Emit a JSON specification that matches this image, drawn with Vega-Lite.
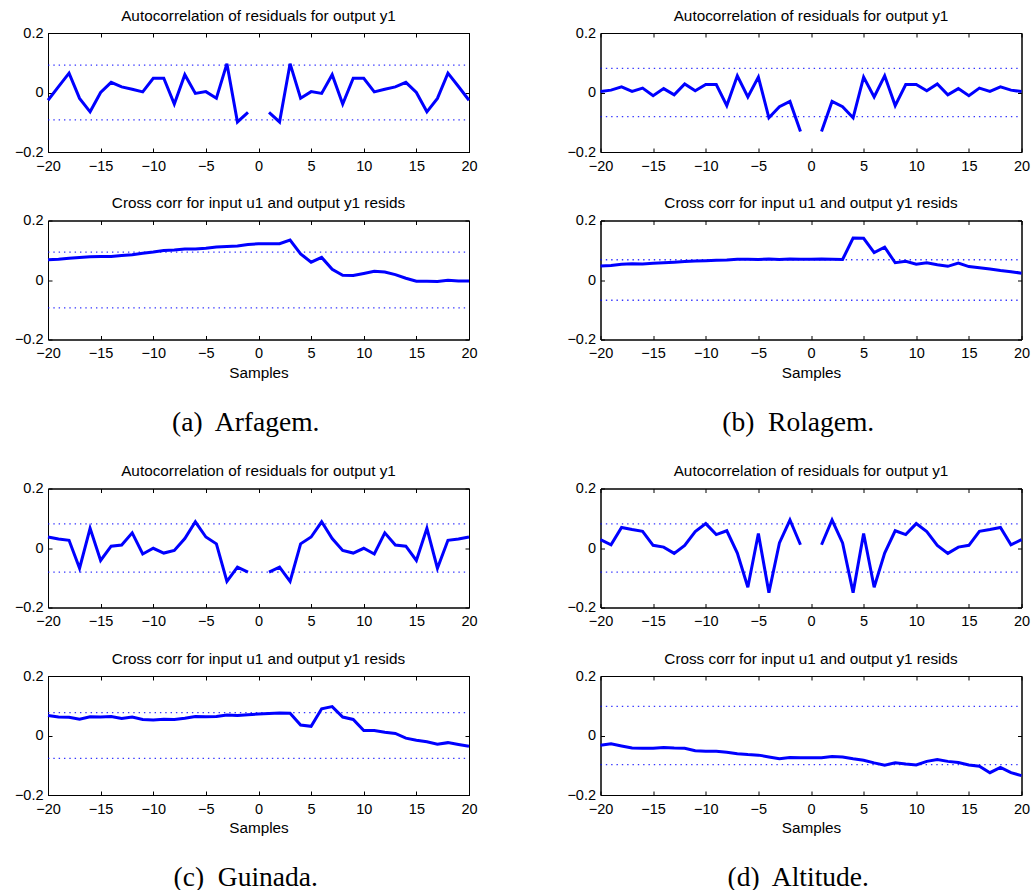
{
  "$schema": "https://vega.github.io/schema/vega-lite/v6.json",
  "background": "white",
  "padding": {"left": 13, "top": 8, "right": 0, "bottom": 0},
  "config": {
    "view": {"stroke": "#000", "strokeWidth": 1},
    "axis": {"domainColor": "#000", "domainWidth": 1, "tickColor": "#000", "tickSize": -4, "tickWidth": 1, "grid": false,
      "labelFont": "Liberation Sans", "labelFontSize": 14.5, "labelColor": "#000", "labelPadding": 9, "labelFlush": false, "labelOverlap": false,
      "titleFont": "Liberation Sans", "titleFontSize": 15.3, "titleFontWeight": "normal", "titleColor": "#000", "titlePadding": 5},
    "axisX": {"labelPadding": 11},
    "axisTop": {"labels": false},
    "axisRight": {"labels": false},
    "title": {"font": "Liberation Sans", "fontSize": 15.3, "fontWeight": "normal", "color": "#000", "offset": 1, "frame": "group", "anchor": "middle"}
  },
  "datasets": {
    "a1": [{"lag":-20,"r":-0.026},{"lag":-19,"r":0.02},{"lag":-18,"r":0.065},{"lag":-17,"r":-0.02},{"lag":-16,"r":-0.065},{"lag":-15,"r":0.0},{"lag":-14,"r":0.034},{"lag":-13,"r":0.019},{"lag":-12,"r":0.011},{"lag":-11,"r":0.002},{"lag":-10,"r":0.048},{"lag":-9,"r":0.048},{"lag":-8,"r":-0.039},{"lag":-7,"r":0.06},{"lag":-6,"r":-0.003},{"lag":-5,"r":0.003},{"lag":-4,"r":-0.019},{"lag":-3,"r":0.097},{"lag":-2,"r":-0.099},{"lag":-1,"r":-0.067},{"lag":0,"r":null},{"lag":1,"r":-0.067},{"lag":2,"r":-0.099},{"lag":3,"r":0.097},{"lag":4,"r":-0.019},{"lag":5,"r":0.003},{"lag":6,"r":-0.003},{"lag":7,"r":0.06},{"lag":8,"r":-0.039},{"lag":9,"r":0.048},{"lag":10,"r":0.048},{"lag":11,"r":0.002},{"lag":12,"r":0.011},{"lag":13,"r":0.019},{"lag":14,"r":0.034},{"lag":15,"r":0.0},{"lag":16,"r":-0.065},{"lag":17,"r":-0.02},{"lag":18,"r":0.065},{"lag":19,"r":0.02},{"lag":20,"r":-0.026}],
    "a1c": [{"b":0.092},{"b":-0.092}],
    "a2": [{"lag":-20,"r":0.068},{"lag":-19,"r":0.07},{"lag":-18,"r":0.073},{"lag":-17,"r":0.076},{"lag":-16,"r":0.078},{"lag":-15,"r":0.079},{"lag":-14,"r":0.079},{"lag":-13,"r":0.082},{"lag":-12,"r":0.085},{"lag":-11,"r":0.09},{"lag":-10,"r":0.094},{"lag":-9,"r":0.099},{"lag":-8,"r":0.101},{"lag":-7,"r":0.104},{"lag":-6,"r":0.104},{"lag":-5,"r":0.107},{"lag":-4,"r":0.111},{"lag":-3,"r":0.113},{"lag":-2,"r":0.114},{"lag":-1,"r":0.119},{"lag":0,"r":0.122},{"lag":1,"r":0.122},{"lag":2,"r":0.122},{"lag":3,"r":0.134},{"lag":4,"r":0.088},{"lag":5,"r":0.06},{"lag":6,"r":0.076},{"lag":7,"r":0.036},{"lag":8,"r":0.016},{"lag":9,"r":0.015},{"lag":10,"r":0.022},{"lag":11,"r":0.029},{"lag":12,"r":0.027},{"lag":13,"r":0.018},{"lag":14,"r":0.006},{"lag":15,"r":-0.004},{"lag":16,"r":-0.004},{"lag":17,"r":-0.005},{"lag":18,"r":-0.001},{"lag":19,"r":-0.003},{"lag":20,"r":-0.003}],
    "a2c": [{"b":0.094},{"b":-0.094}],
    "b1": [{"lag":-20,"r":0.003},{"lag":-19,"r":0.008},{"lag":-18,"r":0.019},{"lag":-17,"r":0.004},{"lag":-16,"r":0.015},{"lag":-15,"r":-0.011},{"lag":-14,"r":0.013},{"lag":-13,"r":-0.008},{"lag":-12,"r":0.029},{"lag":-11,"r":0.006},{"lag":-10,"r":0.027},{"lag":-9,"r":0.027},{"lag":-8,"r":-0.044},{"lag":-7,"r":0.056},{"lag":-6,"r":-0.015},{"lag":-5,"r":0.052},{"lag":-4,"r":-0.085},{"lag":-3,"r":-0.048},{"lag":-2,"r":-0.03},{"lag":-1,"r":-0.131},{"lag":0,"r":null},{"lag":1,"r":-0.131},{"lag":2,"r":-0.03},{"lag":3,"r":-0.048},{"lag":4,"r":-0.085},{"lag":5,"r":0.052},{"lag":6,"r":-0.015},{"lag":7,"r":0.056},{"lag":8,"r":-0.044},{"lag":9,"r":0.027},{"lag":10,"r":0.027},{"lag":11,"r":0.006},{"lag":12,"r":0.029},{"lag":13,"r":-0.008},{"lag":14,"r":0.013},{"lag":15,"r":-0.011},{"lag":16,"r":0.015},{"lag":17,"r":0.004},{"lag":18,"r":0.019},{"lag":19,"r":0.008},{"lag":20,"r":0.003}],
    "b1c": [{"b":0.081},{"b":-0.081}],
    "b2": [{"lag":-20,"r":0.047},{"lag":-19,"r":0.049},{"lag":-18,"r":0.053},{"lag":-17,"r":0.055},{"lag":-16,"r":0.054},{"lag":-15,"r":0.056},{"lag":-14,"r":0.058},{"lag":-13,"r":0.06},{"lag":-12,"r":0.062},{"lag":-11,"r":0.064},{"lag":-10,"r":0.065},{"lag":-9,"r":0.066},{"lag":-8,"r":0.067},{"lag":-7,"r":0.07},{"lag":-6,"r":0.07},{"lag":-5,"r":0.069},{"lag":-4,"r":0.071},{"lag":-3,"r":0.069},{"lag":-2,"r":0.071},{"lag":-1,"r":0.07},{"lag":0,"r":0.07},{"lag":1,"r":0.071},{"lag":2,"r":0.07},{"lag":3,"r":0.069},{"lag":4,"r":0.141},{"lag":5,"r":0.14},{"lag":6,"r":0.092},{"lag":7,"r":0.11},{"lag":8,"r":0.058},{"lag":9,"r":0.063},{"lag":10,"r":0.053},{"lag":11,"r":0.058},{"lag":12,"r":0.051},{"lag":13,"r":0.046},{"lag":14,"r":0.057},{"lag":15,"r":0.045},{"lag":16,"r":0.041},{"lag":17,"r":0.037},{"lag":18,"r":0.032},{"lag":19,"r":0.028},{"lag":20,"r":0.023}],
    "b2c": [{"b":0.068},{"b":-0.068}],
    "c1": [{"lag":-20,"r":0.037},{"lag":-19,"r":0.03},{"lag":-18,"r":0.026},{"lag":-17,"r":-0.068},{"lag":-16,"r":0.066},{"lag":-15,"r":-0.042},{"lag":-14,"r":0.006},{"lag":-13,"r":0.01},{"lag":-12,"r":0.051},{"lag":-11,"r":-0.02},{"lag":-10,"r":-0.001},{"lag":-9,"r":-0.017},{"lag":-8,"r":-0.008},{"lag":-7,"r":0.032},{"lag":-6,"r":0.088},{"lag":-5,"r":0.037},{"lag":-4,"r":0.014},{"lag":-3,"r":-0.112},{"lag":-2,"r":-0.064},{"lag":-1,"r":-0.081},{"lag":0,"r":null},{"lag":1,"r":-0.081},{"lag":2,"r":-0.064},{"lag":3,"r":-0.112},{"lag":4,"r":0.014},{"lag":5,"r":0.037},{"lag":6,"r":0.088},{"lag":7,"r":0.032},{"lag":8,"r":-0.008},{"lag":9,"r":-0.017},{"lag":10,"r":-0.001},{"lag":11,"r":-0.02},{"lag":12,"r":0.051},{"lag":13,"r":0.01},{"lag":14,"r":0.006},{"lag":15,"r":-0.042},{"lag":16,"r":0.066},{"lag":17,"r":-0.068},{"lag":18,"r":0.026},{"lag":19,"r":0.03},{"lag":20,"r":0.037}],
    "c1c": [{"b":0.081},{"b":-0.081}],
    "c2": [{"lag":-20,"r":0.067},{"lag":-19,"r":0.062},{"lag":-18,"r":0.061},{"lag":-17,"r":0.055},{"lag":-16,"r":0.063},{"lag":-15,"r":0.062},{"lag":-14,"r":0.064},{"lag":-13,"r":0.057},{"lag":-12,"r":0.062},{"lag":-11,"r":0.054},{"lag":-10,"r":0.052},{"lag":-9,"r":0.055},{"lag":-8,"r":0.054},{"lag":-7,"r":0.058},{"lag":-6,"r":0.064},{"lag":-5,"r":0.063},{"lag":-4,"r":0.064},{"lag":-3,"r":0.069},{"lag":-2,"r":0.067},{"lag":-1,"r":0.07},{"lag":0,"r":0.072},{"lag":1,"r":0.074},{"lag":2,"r":0.076},{"lag":3,"r":0.075},{"lag":4,"r":0.035},{"lag":5,"r":0.031},{"lag":6,"r":0.09},{"lag":7,"r":0.097},{"lag":8,"r":0.062},{"lag":9,"r":0.054},{"lag":10,"r":0.017},{"lag":11,"r":0.017},{"lag":12,"r":0.011},{"lag":13,"r":0.007},{"lag":14,"r":-0.009},{"lag":15,"r":-0.016},{"lag":16,"r":-0.021},{"lag":17,"r":-0.029},{"lag":18,"r":-0.024},{"lag":19,"r":-0.03},{"lag":20,"r":-0.036}],
    "c2c": [{"b":0.077},{"b":-0.077}],
    "d1": [{"lag":-20,"r":0.028},{"lag":-19,"r":0.011},{"lag":-18,"r":0.069},{"lag":-17,"r":0.062},{"lag":-16,"r":0.056},{"lag":-15,"r":0.009},{"lag":-14,"r":0.003},{"lag":-13,"r":-0.018},{"lag":-12,"r":0.009},{"lag":-11,"r":0.055},{"lag":-10,"r":0.082},{"lag":-9,"r":0.045},{"lag":-8,"r":0.058},{"lag":-7,"r":-0.017},{"lag":-6,"r":-0.132},{"lag":-5,"r":0.049},{"lag":-4,"r":-0.15},{"lag":-3,"r":0.017},{"lag":-2,"r":0.094},{"lag":-1,"r":0.011},{"lag":0,"r":null},{"lag":1,"r":0.011},{"lag":2,"r":0.094},{"lag":3,"r":0.017},{"lag":4,"r":-0.15},{"lag":5,"r":0.049},{"lag":6,"r":-0.132},{"lag":7,"r":-0.017},{"lag":8,"r":0.058},{"lag":9,"r":0.045},{"lag":10,"r":0.082},{"lag":11,"r":0.055},{"lag":12,"r":0.009},{"lag":13,"r":-0.018},{"lag":14,"r":0.003},{"lag":15,"r":0.009},{"lag":16,"r":0.056},{"lag":17,"r":0.062},{"lag":18,"r":0.069},{"lag":19,"r":0.011},{"lag":20,"r":0.028}],
    "d1c": [{"b":0.081},{"b":-0.081}],
    "d2": [{"lag":-20,"r":-0.033},{"lag":-19,"r":-0.028},{"lag":-18,"r":-0.035},{"lag":-17,"r":-0.042},{"lag":-16,"r":-0.043},{"lag":-15,"r":-0.043},{"lag":-14,"r":-0.04},{"lag":-13,"r":-0.042},{"lag":-12,"r":-0.043},{"lag":-11,"r":-0.051},{"lag":-10,"r":-0.053},{"lag":-9,"r":-0.053},{"lag":-8,"r":-0.056},{"lag":-7,"r":-0.061},{"lag":-6,"r":-0.064},{"lag":-5,"r":-0.066},{"lag":-4,"r":-0.072},{"lag":-3,"r":-0.078},{"lag":-2,"r":-0.074},{"lag":-1,"r":-0.075},{"lag":0,"r":-0.075},{"lag":1,"r":-0.075},{"lag":2,"r":-0.071},{"lag":3,"r":-0.072},{"lag":4,"r":-0.078},{"lag":5,"r":-0.083},{"lag":6,"r":-0.092},{"lag":7,"r":-0.1},{"lag":8,"r":-0.092},{"lag":9,"r":-0.096},{"lag":10,"r":-0.099},{"lag":11,"r":-0.087},{"lag":12,"r":-0.081},{"lag":13,"r":-0.087},{"lag":14,"r":-0.091},{"lag":15,"r":-0.099},{"lag":16,"r":-0.103},{"lag":17,"r":-0.125},{"lag":18,"r":-0.107},{"lag":19,"r":-0.125},{"lag":20,"r":-0.135}],
    "d2c": [{"b":0.098},{"b":-0.098}]
  },
  "spacing": 26.5,
  "vconcat": [
    {
      "spacing": 87.5,
      "hconcat": [
        {
          "spacing": 22.5,
          "title": {"text": "(a)\u00a0 Arfagem.", "orient": "bottom", "font": "Liberation Serif", "fontSize": 27.5, "offset": 28, "frame": "bounds", "anchor": "middle"},
          "vconcat": [
            {"width": 421, "height": 119, "title": "Autocorrelation of residuals for output y1",
             "layer": [
               {"data": {"name": "a1c"}, "mark": {"type": "rule", "color": "#0000ff", "strokeWidth": 1.3, "strokeDash": [1.4, 3.93], "opacity": 0.8},
                "encoding": {"x": {"datum": -20, "type": "quantitative", "scale": {"domain": [-20, 20], "nice": false}, "axis": {"orient": "top", "values": [-20,-15,-10,-5,0,5,10,15,20], "title": null}},
                  "x2": {"datum": 20},
                  "y": {"field": "b", "type": "quantitative", "scale": {"domain": [-0.2, 0.2], "nice": false}, "axis": {"orient": "left", "values": [-0.2,0,0.2], "format": "~g", "title": null}}}},
               {"data": {"name": "a1"}, "mark": {"type": "line", "color": "#0000ff", "strokeWidth": 3, "invalid": "break-paths-show-domains"},
                "encoding": {"x": {"field": "lag", "type": "quantitative", "axis": {"orient": "bottom", "values": [-20,-15,-10,-5,0,5,10,15,20], "title": null}},
                  "y": {"field": "r", "type": "quantitative", "axis": {"orient": "right", "values": [-0.2,0,0.2], "title": null}}}}
             ],
             "resolve": {"axis": {"x": "independent", "y": "independent"}}},
            {"width": 421, "height": 119, "title": "Cross corr for input u1 and output y1 resids",
             "layer": [
               {"data": {"name": "a2c"}, "mark": {"type": "rule", "color": "#0000ff", "strokeWidth": 1.3, "strokeDash": [1.4, 3.93], "opacity": 0.8},
                "encoding": {"x": {"datum": -20, "type": "quantitative", "scale": {"domain": [-20, 20], "nice": false}, "axis": {"orient": "top", "values": [-20,-15,-10,-5,0,5,10,15,20], "title": null}},
                  "x2": {"datum": 20},
                  "y": {"field": "b", "type": "quantitative", "scale": {"domain": [-0.2, 0.2], "nice": false}, "axis": {"orient": "left", "values": [-0.2,0,0.2], "format": "~g", "title": null}}}},
               {"data": {"name": "a2"}, "mark": {"type": "line", "color": "#0000ff", "strokeWidth": 3},
                "encoding": {"x": {"field": "lag", "type": "quantitative", "axis": {"orient": "bottom", "values": [-20,-15,-10,-5,0,5,10,15,20], "title": "Samples"}},
                  "y": {"field": "r", "type": "quantitative", "axis": {"orient": "right", "values": [-0.2,0,0.2], "title": null}}}}
             ],
             "resolve": {"axis": {"x": "independent", "y": "independent"}}}
          ]
        },
        {
          "spacing": 22.5,
          "title": {"text": "(b)\u00a0 Rolagem.", "orient": "bottom", "font": "Liberation Serif", "fontSize": 27.5, "offset": 28, "frame": "bounds", "anchor": "middle"},
          "vconcat": [
            {"width": 421, "height": 119, "title": "Autocorrelation of residuals for output y1",
             "layer": [
               {"data": {"name": "b1c"}, "mark": {"type": "rule", "color": "#0000ff", "strokeWidth": 1.3, "strokeDash": [1.4, 3.93], "opacity": 0.8},
                "encoding": {"x": {"datum": -20, "type": "quantitative", "scale": {"domain": [-20, 20], "nice": false}, "axis": {"orient": "top", "values": [-20,-15,-10,-5,0,5,10,15,20], "title": null}},
                  "x2": {"datum": 20},
                  "y": {"field": "b", "type": "quantitative", "scale": {"domain": [-0.2, 0.2], "nice": false}, "axis": {"orient": "left", "values": [-0.2,0,0.2], "format": "~g", "title": null}}}},
               {"data": {"name": "b1"}, "mark": {"type": "line", "color": "#0000ff", "strokeWidth": 3, "invalid": "break-paths-show-domains"},
                "encoding": {"x": {"field": "lag", "type": "quantitative", "axis": {"orient": "bottom", "values": [-20,-15,-10,-5,0,5,10,15,20], "title": null}},
                  "y": {"field": "r", "type": "quantitative", "axis": {"orient": "right", "values": [-0.2,0,0.2], "title": null}}}}
             ],
             "resolve": {"axis": {"x": "independent", "y": "independent"}}},
            {"width": 421, "height": 119, "title": "Cross corr for input u1 and output y1 resids",
             "layer": [
               {"data": {"name": "b2c"}, "mark": {"type": "rule", "color": "#0000ff", "strokeWidth": 1.3, "strokeDash": [1.4, 3.93], "opacity": 0.8},
                "encoding": {"x": {"datum": -20, "type": "quantitative", "scale": {"domain": [-20, 20], "nice": false}, "axis": {"orient": "top", "values": [-20,-15,-10,-5,0,5,10,15,20], "title": null}},
                  "x2": {"datum": 20},
                  "y": {"field": "b", "type": "quantitative", "scale": {"domain": [-0.2, 0.2], "nice": false}, "axis": {"orient": "left", "values": [-0.2,0,0.2], "format": "~g", "title": null}}}},
               {"data": {"name": "b2"}, "mark": {"type": "line", "color": "#0000ff", "strokeWidth": 3},
                "encoding": {"x": {"field": "lag", "type": "quantitative", "axis": {"orient": "bottom", "values": [-20,-15,-10,-5,0,5,10,15,20], "title": "Samples"}},
                  "y": {"field": "r", "type": "quantitative", "axis": {"orient": "right", "values": [-0.2,0,0.2], "title": null}}}}
             ],
             "resolve": {"axis": {"x": "independent", "y": "independent"}}}
          ]
        }
      ]
    },
    {
      "spacing": 87.5,
      "hconcat": [
        {
          "spacing": 22.5,
          "title": {"text": "(c)\u00a0 Guinada.", "orient": "bottom", "font": "Liberation Serif", "fontSize": 27.5, "offset": 28, "frame": "bounds", "anchor": "middle"},
          "vconcat": [
            {"width": 421, "height": 119, "title": "Autocorrelation of residuals for output y1",
             "layer": [
               {"data": {"name": "c1c"}, "mark": {"type": "rule", "color": "#0000ff", "strokeWidth": 1.3, "strokeDash": [1.4, 3.93], "opacity": 0.8},
                "encoding": {"x": {"datum": -20, "type": "quantitative", "scale": {"domain": [-20, 20], "nice": false}, "axis": {"orient": "top", "values": [-20,-15,-10,-5,0,5,10,15,20], "title": null}},
                  "x2": {"datum": 20},
                  "y": {"field": "b", "type": "quantitative", "scale": {"domain": [-0.2, 0.2], "nice": false}, "axis": {"orient": "left", "values": [-0.2,0,0.2], "format": "~g", "title": null}}}},
               {"data": {"name": "c1"}, "mark": {"type": "line", "color": "#0000ff", "strokeWidth": 3, "invalid": "break-paths-show-domains"},
                "encoding": {"x": {"field": "lag", "type": "quantitative", "axis": {"orient": "bottom", "values": [-20,-15,-10,-5,0,5,10,15,20], "title": null}},
                  "y": {"field": "r", "type": "quantitative", "axis": {"orient": "right", "values": [-0.2,0,0.2], "title": null}}}}
             ],
             "resolve": {"axis": {"x": "independent", "y": "independent"}}},
            {"width": 421, "height": 119, "title": "Cross corr for input u1 and output y1 resids",
             "layer": [
               {"data": {"name": "c2c"}, "mark": {"type": "rule", "color": "#0000ff", "strokeWidth": 1.3, "strokeDash": [1.4, 3.93], "opacity": 0.8},
                "encoding": {"x": {"datum": -20, "type": "quantitative", "scale": {"domain": [-20, 20], "nice": false}, "axis": {"orient": "top", "values": [-20,-15,-10,-5,0,5,10,15,20], "title": null}},
                  "x2": {"datum": 20},
                  "y": {"field": "b", "type": "quantitative", "scale": {"domain": [-0.2, 0.2], "nice": false}, "axis": {"orient": "left", "values": [-0.2,0,0.2], "format": "~g", "title": null}}}},
               {"data": {"name": "c2"}, "mark": {"type": "line", "color": "#0000ff", "strokeWidth": 3},
                "encoding": {"x": {"field": "lag", "type": "quantitative", "axis": {"orient": "bottom", "values": [-20,-15,-10,-5,0,5,10,15,20], "title": "Samples"}},
                  "y": {"field": "r", "type": "quantitative", "axis": {"orient": "right", "values": [-0.2,0,0.2], "title": null}}}}
             ],
             "resolve": {"axis": {"x": "independent", "y": "independent"}}}
          ]
        },
        {
          "spacing": 22.5,
          "title": {"text": "(d)\u00a0 Altitude.", "orient": "bottom", "font": "Liberation Serif", "fontSize": 27.5, "offset": 28, "frame": "bounds", "anchor": "middle"},
          "vconcat": [
            {"width": 421, "height": 119, "title": "Autocorrelation of residuals for output y1",
             "layer": [
               {"data": {"name": "d1c"}, "mark": {"type": "rule", "color": "#0000ff", "strokeWidth": 1.3, "strokeDash": [1.4, 3.93], "opacity": 0.8},
                "encoding": {"x": {"datum": -20, "type": "quantitative", "scale": {"domain": [-20, 20], "nice": false}, "axis": {"orient": "top", "values": [-20,-15,-10,-5,0,5,10,15,20], "title": null}},
                  "x2": {"datum": 20},
                  "y": {"field": "b", "type": "quantitative", "scale": {"domain": [-0.2, 0.2], "nice": false}, "axis": {"orient": "left", "values": [-0.2,0,0.2], "format": "~g", "title": null}}}},
               {"data": {"name": "d1"}, "mark": {"type": "line", "color": "#0000ff", "strokeWidth": 3, "invalid": "break-paths-show-domains"},
                "encoding": {"x": {"field": "lag", "type": "quantitative", "axis": {"orient": "bottom", "values": [-20,-15,-10,-5,0,5,10,15,20], "title": null}},
                  "y": {"field": "r", "type": "quantitative", "axis": {"orient": "right", "values": [-0.2,0,0.2], "title": null}}}}
             ],
             "resolve": {"axis": {"x": "independent", "y": "independent"}}},
            {"width": 421, "height": 119, "title": "Cross corr for input u1 and output y1 resids",
             "layer": [
               {"data": {"name": "d2c"}, "mark": {"type": "rule", "color": "#0000ff", "strokeWidth": 1.3, "strokeDash": [1.4, 3.93], "opacity": 0.8},
                "encoding": {"x": {"datum": -20, "type": "quantitative", "scale": {"domain": [-20, 20], "nice": false}, "axis": {"orient": "top", "values": [-20,-15,-10,-5,0,5,10,15,20], "title": null}},
                  "x2": {"datum": 20},
                  "y": {"field": "b", "type": "quantitative", "scale": {"domain": [-0.2, 0.2], "nice": false}, "axis": {"orient": "left", "values": [-0.2,0,0.2], "format": "~g", "title": null}}}},
               {"data": {"name": "d2"}, "mark": {"type": "line", "color": "#0000ff", "strokeWidth": 3},
                "encoding": {"x": {"field": "lag", "type": "quantitative", "axis": {"orient": "bottom", "values": [-20,-15,-10,-5,0,5,10,15,20], "title": "Samples"}},
                  "y": {"field": "r", "type": "quantitative", "axis": {"orient": "right", "values": [-0.2,0,0.2], "title": null}}}}
             ],
             "resolve": {"axis": {"x": "independent", "y": "independent"}}}
          ]
        }
      ]
    }
  ]
}
